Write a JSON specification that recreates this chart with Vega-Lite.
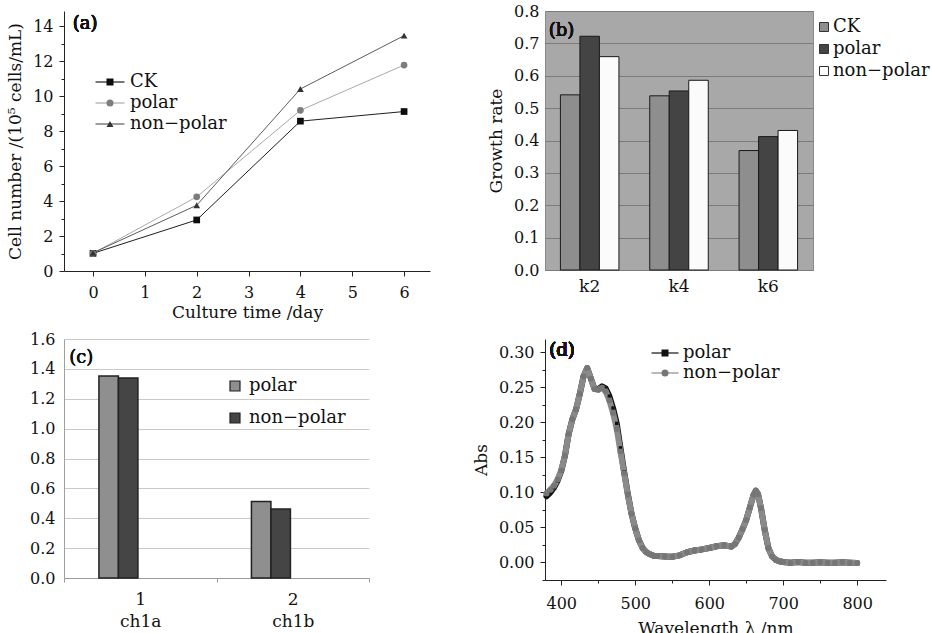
{
  "$schema": "https://vega.github.io/schema/vega-lite/v6.json",
  "background": "white",
  "padding": {"left": 6, "top": 2, "right": 0, "bottom": 0},
  "bounds": "flush",
  "align": "all",
  "columns": 2,
  "spacing": {"row": 68, "column": 115},
  "resolve": {"scale": {"fill": "independent", "stroke": "independent", "shape": "independent"}, "legend": {"fill": "independent", "stroke": "independent", "shape": "independent"}},
  "config": {
    "font": "DejaVu Serif",
    "view": {"stroke": null},
    "axis": {"labelFont": "DejaVu Serif", "titleFont": "DejaVu Serif", "labelFontSize": 16, "titleFontSize": 17, "titleFontWeight": "normal", "labelColor": "#111", "titleColor": "#111", "grid": false, "domainColor": "#222", "tickColor": "#222", "labelOverlap": false},
    "legend": {"labelFont": "DejaVu Serif", "labelFontSize": 18, "labelColor": "#111", "padding": 0, "title": null, "symbolOpacity": 1},
    "text": {"font": "DejaVu Serif", "fontSize": 18, "color": "#111", "fontWeight": "normal"}
  },
  "datasets": {
    "growth": [
      {"day": 0, "series": "CK", "cells": 1.01}, {"day": 2, "series": "CK", "cells": 2.92}, {"day": 4, "series": "CK", "cells": 8.57}, {"day": 6, "series": "CK", "cells": 9.12},
      {"day": 0, "series": "polar", "cells": 1.01}, {"day": 2, "series": "polar", "cells": 4.24}, {"day": 4, "series": "polar", "cells": 9.19}, {"day": 6, "series": "polar", "cells": 11.78},
      {"day": 0, "series": "non−polar", "cells": 1.04}, {"day": 2, "series": "non−polar", "cells": 3.76}, {"day": 4, "series": "non−polar", "cells": 10.41}, {"day": 6, "series": "non−polar", "cells": 13.46}
    ],
    "rate": [
      {"k": "k2", "series": "CK", "rate": 0.541}, {"k": "k2", "series": "polar", "rate": 0.722}, {"k": "k2", "series": "non−polar", "rate": 0.659},
      {"k": "k4", "series": "CK", "rate": 0.538}, {"k": "k4", "series": "polar", "rate": 0.553}, {"k": "k4", "series": "non−polar", "rate": 0.586},
      {"k": "k6", "series": "CK", "rate": 0.369}, {"k": "k6", "series": "polar", "rate": 0.412}, {"k": "k6", "series": "non−polar", "rate": 0.431}
    ],
    "chl": [
      {"pig": "ch1a", "series": "polar", "v": 1.352}, {"pig": "ch1a", "series": "non−polar", "v": 1.339},
      {"pig": "ch1b", "series": "polar", "v": 0.512}, {"pig": "ch1b", "series": "non−polar", "v": 0.462}
    ],
    "spec": [
      {"wl": 380, "series": "polar", "abs": 0.094}, {"wl": 385, "series": "polar", "abs": 0.099}, {"wl": 390, "series": "polar", "abs": 0.106}, {"wl": 395, "series": "polar", "abs": 0.116},
      {"wl": 400, "series": "polar", "abs": 0.130}, {"wl": 405, "series": "polar", "abs": 0.152}, {"wl": 410, "series": "polar", "abs": 0.183}, {"wl": 415, "series": "polar", "abs": 0.204},
      {"wl": 420, "series": "polar", "abs": 0.218}, {"wl": 425, "series": "polar", "abs": 0.240}, {"wl": 430, "series": "polar", "abs": 0.265}, {"wl": 435, "series": "polar", "abs": 0.277},
      {"wl": 440, "series": "polar", "abs": 0.262}, {"wl": 445, "series": "polar", "abs": 0.247}, {"wl": 450, "series": "polar", "abs": 0.247}, {"wl": 455, "series": "polar", "abs": 0.251},
      {"wl": 460, "series": "polar", "abs": 0.248}, {"wl": 465, "series": "polar", "abs": 0.237}, {"wl": 470, "series": "polar", "abs": 0.220}, {"wl": 475, "series": "polar", "abs": 0.198},
      {"wl": 480, "series": "polar", "abs": 0.163}, {"wl": 485, "series": "polar", "abs": 0.129}, {"wl": 490, "series": "polar", "abs": 0.097}, {"wl": 495, "series": "polar", "abs": 0.069},
      {"wl": 500, "series": "polar", "abs": 0.048}, {"wl": 505, "series": "polar", "abs": 0.031}, {"wl": 510, "series": "polar", "abs": 0.020}, {"wl": 515, "series": "polar", "abs": 0.014},
      {"wl": 520, "series": "polar", "abs": 0.011}, {"wl": 525, "series": "polar", "abs": 0.009}, {"wl": 530, "series": "polar", "abs": 0.0085}, {"wl": 540, "series": "polar", "abs": 0.008},
      {"wl": 550, "series": "polar", "abs": 0.0075}, {"wl": 560, "series": "polar", "abs": 0.0095}, {"wl": 570, "series": "polar", "abs": 0.014}, {"wl": 580, "series": "polar", "abs": 0.0165},
      {"wl": 590, "series": "polar", "abs": 0.018}, {"wl": 600, "series": "polar", "abs": 0.020}, {"wl": 610, "series": "polar", "abs": 0.0225}, {"wl": 620, "series": "polar", "abs": 0.024},
      {"wl": 630, "series": "polar", "abs": 0.022}, {"wl": 635, "series": "polar", "abs": 0.026}, {"wl": 640, "series": "polar", "abs": 0.035}, {"wl": 645, "series": "polar", "abs": 0.047},
      {"wl": 650, "series": "polar", "abs": 0.060}, {"wl": 655, "series": "polar", "abs": 0.078}, {"wl": 660, "series": "polar", "abs": 0.096}, {"wl": 663, "series": "polar", "abs": 0.102},
      {"wl": 666, "series": "polar", "abs": 0.097}, {"wl": 670, "series": "polar", "abs": 0.077}, {"wl": 675, "series": "polar", "abs": 0.046}, {"wl": 680, "series": "polar", "abs": 0.020},
      {"wl": 685, "series": "polar", "abs": 0.008}, {"wl": 690, "series": "polar", "abs": 0.003}, {"wl": 695, "series": "polar", "abs": 0.001}, {"wl": 700, "series": "polar", "abs": 0.0},
      {"wl": 710, "series": "polar", "abs": -0.001}, {"wl": 720, "series": "polar", "abs": 0.0}, {"wl": 730, "series": "polar", "abs": -0.001}, {"wl": 740, "series": "polar", "abs": -0.001},
      {"wl": 750, "series": "polar", "abs": -0.0005}, {"wl": 760, "series": "polar", "abs": -0.001}, {"wl": 770, "series": "polar", "abs": -0.001}, {"wl": 780, "series": "polar", "abs": -0.0005},
      {"wl": 790, "series": "polar", "abs": -0.001}, {"wl": 800, "series": "polar", "abs": -0.0015},
      {"wl": 380, "series": "non−polar", "abs": 0.098}, {"wl": 385, "series": "non−polar", "abs": 0.103}, {"wl": 390, "series": "non−polar", "abs": 0.109}, {"wl": 395, "series": "non−polar", "abs": 0.118},
      {"wl": 400, "series": "non−polar", "abs": 0.131}, {"wl": 405, "series": "non−polar", "abs": 0.152}, {"wl": 410, "series": "non−polar", "abs": 0.183}, {"wl": 415, "series": "non−polar", "abs": 0.204},
      {"wl": 420, "series": "non−polar", "abs": 0.218}, {"wl": 425, "series": "non−polar", "abs": 0.240}, {"wl": 430, "series": "non−polar", "abs": 0.265}, {"wl": 435, "series": "non−polar", "abs": 0.277},
      {"wl": 440, "series": "non−polar", "abs": 0.262}, {"wl": 445, "series": "non−polar", "abs": 0.247}, {"wl": 450, "series": "non−polar", "abs": 0.246}, {"wl": 455, "series": "non−polar", "abs": 0.249},
      {"wl": 460, "series": "non−polar", "abs": 0.244}, {"wl": 465, "series": "non−polar", "abs": 0.231}, {"wl": 470, "series": "non−polar", "abs": 0.213}, {"wl": 475, "series": "non−polar", "abs": 0.190},
      {"wl": 480, "series": "non−polar", "abs": 0.158}, {"wl": 485, "series": "non−polar", "abs": 0.127}, {"wl": 490, "series": "non−polar", "abs": 0.096}, {"wl": 495, "series": "non−polar", "abs": 0.069},
      {"wl": 500, "series": "non−polar", "abs": 0.048}, {"wl": 505, "series": "non−polar", "abs": 0.031}, {"wl": 510, "series": "non−polar", "abs": 0.020}, {"wl": 515, "series": "non−polar", "abs": 0.014},
      {"wl": 520, "series": "non−polar", "abs": 0.011}, {"wl": 525, "series": "non−polar", "abs": 0.009}, {"wl": 530, "series": "non−polar", "abs": 0.0085}, {"wl": 540, "series": "non−polar", "abs": 0.008},
      {"wl": 550, "series": "non−polar", "abs": 0.0075}, {"wl": 560, "series": "non−polar", "abs": 0.0095}, {"wl": 570, "series": "non−polar", "abs": 0.014}, {"wl": 580, "series": "non−polar", "abs": 0.0165},
      {"wl": 590, "series": "non−polar", "abs": 0.018}, {"wl": 600, "series": "non−polar", "abs": 0.020}, {"wl": 610, "series": "non−polar", "abs": 0.0225}, {"wl": 620, "series": "non−polar", "abs": 0.024},
      {"wl": 630, "series": "non−polar", "abs": 0.022}, {"wl": 635, "series": "non−polar", "abs": 0.026}, {"wl": 640, "series": "non−polar", "abs": 0.035}, {"wl": 645, "series": "non−polar", "abs": 0.047},
      {"wl": 650, "series": "non−polar", "abs": 0.060}, {"wl": 655, "series": "non−polar", "abs": 0.078}, {"wl": 660, "series": "non−polar", "abs": 0.096}, {"wl": 663, "series": "non−polar", "abs": 0.102},
      {"wl": 666, "series": "non−polar", "abs": 0.097}, {"wl": 670, "series": "non−polar", "abs": 0.077}, {"wl": 675, "series": "non−polar", "abs": 0.046}, {"wl": 680, "series": "non−polar", "abs": 0.020},
      {"wl": 685, "series": "non−polar", "abs": 0.008}, {"wl": 690, "series": "non−polar", "abs": 0.003}, {"wl": 695, "series": "non−polar", "abs": 0.001}, {"wl": 700, "series": "non−polar", "abs": 0.0},
      {"wl": 710, "series": "non−polar", "abs": -0.001}, {"wl": 720, "series": "non−polar", "abs": 0.0}, {"wl": 730, "series": "non−polar", "abs": -0.001}, {"wl": 740, "series": "non−polar", "abs": -0.001},
      {"wl": 750, "series": "non−polar", "abs": -0.0005}, {"wl": 760, "series": "non−polar", "abs": -0.001}, {"wl": 770, "series": "non−polar", "abs": -0.001}, {"wl": 780, "series": "non−polar", "abs": -0.0005},
      {"wl": 790, "series": "non−polar", "abs": -0.001}, {"wl": 800, "series": "non−polar", "abs": -0.0015}
    ]
  },
  "concat": [
    {
      "width": 366, "height": 260,
      "data": {"name": "growth"},
      "encoding": {
        "x": {"field": "day", "type": "quantitative", "scale": {"domain": [-0.56, 6.5], "nice": false, "zero": false},
          "axis": {"title": "Culture time /day", "format": "d", "values": [0, 0.5, 1, 1.5, 2, 2.5, 3, 3.5, 4, 4.5, 5, 5.5, 6, 6.5], "labelExpr": "datum.value % 1 == 0 ? datum.label : ''", "labelOverlap": false, "tickSize": {"condition": {"test": "datum.value % 1 != 0", "value": 3}, "value": 5}, "labelPadding": 8, "titlePadding": 4}},
        "y": {"field": "cells", "type": "quantitative", "scale": {"domain": [0, 14.87], "nice": false},
          "axis": {"title": "Cell number /(10⁵ cells/mL)", "format": "d", "values": [0, 1, 2, 3, 4, 5, 6, 7, 8, 9, 10, 11, 12, 13, 14], "labelExpr": "datum.value % 2 == 0 ? datum.label : ''", "labelOverlap": false, "tickSize": {"condition": {"test": "datum.value % 2 != 0", "value": 3}, "value": 5}, "labelPadding": 6, "titlePadding": 8}}
      },
      "layer": [
        {"mark": {"type": "line", "strokeWidth": 1},
         "encoding": {"stroke": {"field": "series", "type": "nominal", "sort": ["CK", "polar", "non−polar"], "scale": {"range": ["#1e1e1e", "#a9a9a9", "#5c5c5c"]},
           "legend": {"orient": "none", "legendX": 37, "legendY": 62, "symbolType": "M-4.14,0H4.14", "symbolSize": 49, "symbolStrokeWidth": 1.2, "labelOffset": 11, "rowPadding": 3, "labelBaseline": "middle", "labelOpacity": 0}}}},
        {"mark": {"type": "point", "filled": true, "opacity": 1, "size": 45},
         "encoding": {
           "fill": {"field": "series", "type": "nominal", "scale": {"domain": ["CK", "polar", "non−polar"], "range": ["#0d0d0d", "#7d7d7d", "#333333"]},
             "legend": {"orient": "none", "legendX": 37, "legendY": 62, "symbolSize": 49, "labelOffset": 11, "rowPadding": 3, "labelBaseline": "middle"}},
           "shape": {"field": "series", "type": "nominal", "scale": {"domain": ["CK", "polar", "non−polar"], "range": ["square", "circle", "triangle-up"]},
             "legend": {"orient": "none", "legendX": 37, "legendY": 62, "symbolSize": 49, "labelOffset": 11, "rowPadding": 3, "labelBaseline": "middle"}}
         }},
        {"mark": {"type": "text", "align": "left", "baseline": "middle", "font": "DejaVu Serif", "fontSize": 18, "fontWeight": "normal"},
         "encoding": {"x": {"datum": -0.39}, "y": {"datum": 14.1}, "text": {"value": "(a)"}}}
      ]
    },
    {
      "width": 268, "height": 259,
      "view": {"fill": "#a8a8a8", "stroke": "#8a8a8a"},
      "data": {"name": "rate"},
      "layer": [
        {"mark": {"type": "bar", "stroke": "#1a1a1a", "strokeWidth": 1},
         "encoding": {
           "x": {"field": "k", "type": "nominal", "scale": {"paddingInner": 0, "paddingOuter": 0}, "axis": {"title": null, "labelAngle": 0, "domain": false, "ticks": false, "grid": false, "labelPadding": 8, "labelFontSize": 17}},
           "xOffset": {"field": "series", "type": "nominal", "sort": ["CK", "polar", "non−polar"], "scale": {"paddingInner": 0, "paddingOuter": 0.79}},
           "y": {"field": "rate", "type": "quantitative", "scale": {"domain": [0, 0.8], "nice": false},
             "axis": {"title": "Growth rate", "values": [0, 0.1, 0.2, 0.3, 0.4, 0.5, 0.6, 0.7, 0.8], "format": ".1f", "labelOverlap": false, "grid": true, "gridColor": "#7b7b7b", "gridWidth": 1, "domain": false, "ticks": false, "labelPadding": 6, "titlePadding": 8}},
           "fill": {"field": "series", "type": "nominal", "scale": {"domain": ["CK", "polar", "non−polar"], "range": ["#8e8e8e", "#444444", "#fbfbfb"]},
             "legend": {"orient": "none", "legendX": 270, "legendY": 7, "symbolType": "square", "symbolSize": 81, "symbolStrokeColor": "#333", "symbolStrokeWidth": 1, "labelOffset": 0, "rowPadding": 4, "labelBaseline": "middle"}}
         }},
        {"mark": {"type": "text", "align": "left", "baseline": "middle", "dx": -41, "font": "DejaVu Serif", "fontSize": 18, "fontWeight": "normal"},
         "encoding": {
           "x": {"datum": "k2", "type": "nominal", "axis": {"title": null, "labelAngle": 0, "domain": false, "ticks": false, "grid": false, "labelPadding": 8, "labelFontSize": 17}},
           "y": {"datum": 0.738, "type": "quantitative", "axis": {"title": "Growth rate", "values": [0, 0.1, 0.2, 0.3, 0.4, 0.5, 0.6, 0.7, 0.8], "format": ".1f", "labelOverlap": false, "grid": true, "gridColor": "#7b7b7b", "gridWidth": 1, "domain": false, "ticks": false, "labelPadding": 6, "titlePadding": 8}},
           "text": {"value": "(b)"}}}
      ]
    },
    {
      "width": 305, "height": 239,
      "data": {"name": "chl"},
      "layer": [
        {"mark": {"type": "bar", "stroke": "#222", "strokeWidth": 1.5},
         "encoding": {
           "x": {"field": "pig", "type": "nominal", "scale": {"paddingInner": 0, "paddingOuter": 0},
             "axis": {"title": null, "labelAngle": 0, "grid": false, "labelExpr": "datum.value == 'ch1a' ? ['1', 'ch1a'] : datum.value == 'ch1b' ? ['2', 'ch1b'] : ''", "labelLineHeight": 22, "labelFontSize": 17, "tickBand": "extent", "tickSize": 4, "domainColor": "#9a9a9a", "tickColor": "#9a9a9a", "labelPadding": 9}},
           "xOffset": {"field": "series", "type": "nominal", "sort": ["polar", "non−polar"], "scale": {"paddingInner": 0, "paddingOuter": 0.76}},
           "y": {"field": "v", "type": "quantitative", "scale": {"domain": [0, 1.6], "nice": false},
             "axis": {"title": null, "values": [0, 0.2, 0.4, 0.6, 0.8, 1.0, 1.2, 1.4, 1.6], "format": ".1f", "labelOverlap": false, "grid": true, "gridColor": "#c9c9c9", "domainColor": "#a0a0a0", "ticks": false, "labelPadding": 9}},
           "fill": {"field": "series", "type": "nominal", "scale": {"domain": ["polar", "non−polar"], "range": ["#8f8f8f", "#454545"]},
             "legend": {"orient": "none", "legendX": 162, "legendY": 38, "symbolType": "square", "symbolSize": 100, "symbolStrokeColor": "#222", "symbolStrokeWidth": 1.2, "labelOffset": 5, "rowPadding": 14, "labelBaseline": "middle"}}
         }},
        {"mark": {"type": "text", "align": "left", "baseline": "middle", "dx": -71, "font": "DejaVu Serif", "fontSize": 18, "fontWeight": "normal"},
         "encoding": {
           "x": {"datum": "ch1a", "type": "nominal", "axis": {"title": null, "labelAngle": 0, "grid": false, "labelExpr": "datum.value == 'ch1a' ? ['1', 'ch1a'] : datum.value == 'ch1b' ? ['2', 'ch1b'] : ''", "labelLineHeight": 22, "labelFontSize": 17, "tickBand": "extent", "tickSize": 4, "domainColor": "#9a9a9a", "tickColor": "#9a9a9a", "labelPadding": 9}},
           "y": {"datum": 1.473, "type": "quantitative", "axis": {"title": null, "values": [0, 0.2, 0.4, 0.6, 0.8, 1.0, 1.2, 1.4, 1.6], "format": ".1f", "labelOverlap": false, "grid": true, "gridColor": "#c9c9c9", "domainColor": "#a0a0a0", "ticks": false, "labelPadding": 9}},
           "text": {"value": "(c)"}}}
      ]
    },
    {
      "width": 341, "height": 241,
      "data": {"name": "spec"},
      "encoding": {
        "x": {"field": "wl", "type": "quantitative", "scale": {"domain": [378, 839], "nice": false, "zero": false},
          "axis": {"title": "Wavelength λ /nm", "format": "d", "values": [400, 450, 500, 550, 600, 650, 700, 750, 800], "labelExpr": "datum.value % 100 == 0 ? datum.label : ''", "labelOverlap": false, "tickSize": {"condition": {"test": "datum.value % 100 != 0", "value": 3}, "value": 5}, "labelPadding": 10, "titlePadding": 9}},
        "y": {"field": "abs", "type": "quantitative", "scale": {"domain": [-0.0257, 0.3186], "nice": false, "zero": false},
          "axis": {"title": "Abs", "values": [-0.025, 0, 0.025, 0.05, 0.075, 0.1, 0.125, 0.15, 0.175, 0.2, 0.225, 0.25, 0.275, 0.3], "labelExpr": "abs(datum.value * 20 - round(datum.value * 20)) < 0.001 && datum.value >= 0 ? format(datum.value, '.2f') : ''", "labelOverlap": false, "tickSize": {"condition": {"test": "abs(datum.value * 20 - round(datum.value * 20)) > 0.001", "value": 3}, "value": 5}, "labelPadding": 6, "titlePadding": 8}}
      },
      "layer": [
        {"transform": [{"filter": "datum.series == 'polar'"}],
         "mark": {"type": "line", "strokeWidth": 6, "strokeJoin": "round", "strokeCap": "round"},
         "encoding": {"stroke": {"field": "series", "type": "nominal", "sort": ["polar", "non−polar"], "scale": {"range": ["#111111", "#8a8a8a"]},
           "legend": {"orient": "none", "legendX": 111, "legendY": 5, "symbolType": "M-3.86,0H3.86", "symbolSize": 49, "symbolStrokeWidth": 1.2, "labelOffset": 9, "rowPadding": 2, "labelBaseline": "middle", "labelOpacity": 0}}}},
        {"transform": [{"filter": "datum.series != 'polar'"}],
         "mark": {"type": "line", "strokeWidth": 6, "strokeJoin": "round", "strokeCap": "round"},
         "encoding": {"stroke": {"field": "series", "type": "nominal", "sort": ["polar", "non−polar"], "scale": {"range": ["#111111", "#8a8a8a"]},
           "legend": {"orient": "none", "legendX": 111, "legendY": 5, "symbolType": "M-3.86,0H3.86", "symbolSize": 49, "symbolStrokeWidth": 1.2, "labelOffset": 9, "rowPadding": 2, "labelBaseline": "middle", "labelOpacity": 0}}}},
        {"mark": {"type": "point", "filled": true, "opacity": 1, "size": 30},
         "encoding": {
           "fill": {"field": "series", "type": "nominal", "scale": {"domain": ["polar", "non−polar"], "range": ["#111111", "#767676"]},
             "legend": {"orient": "none", "legendX": 111, "legendY": 5, "symbolSize": 49, "labelOffset": 9, "rowPadding": 2, "labelBaseline": "middle"}},
           "shape": {"field": "series", "type": "nominal", "scale": {"domain": ["polar", "non−polar"], "range": ["square", "circle"]},
             "legend": {"orient": "none", "legendX": 111, "legendY": 5, "symbolSize": 49, "labelOffset": 9, "rowPadding": 2, "labelBaseline": "middle"}},
           "size": {"field": "series", "type": "nominal", "scale": {"domain": ["polar", "non−polar"], "range": [12, 34]}, "legend": null}
         }},
        {"mark": {"type": "text", "align": "left", "baseline": "middle", "font": "DejaVu Serif", "fontSize": 18, "fontWeight": "normal"},
         "encoding": {"x": {"datum": 383.8}, "y": {"datum": 0.301}, "text": {"value": "(d)"}}}
      ]
    }
  ]
}
